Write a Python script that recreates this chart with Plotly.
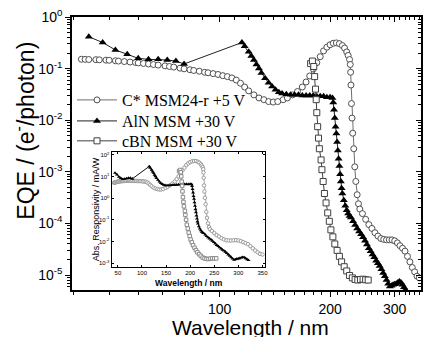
import math
import plotly.graph_objects as go

# ---------------- data ----------------
# C* MSM24-r +5 V  (wavelength nm, EQE e-/photon)
lam_c = [42, 43, 44, 46, 47, 49, 50, 52, 53, 55,
         57, 59, 60, 62, 64, 66, 68, 71, 73, 75,
         78, 80, 83, 85, 88, 91, 93, 96, 99, 102,
         105, 108, 111, 114, 117, 120, 124, 128, 132, 136,
         140, 144, 149, 153, 158, 163, 168, 172, 176, 180,
         184, 188, 192, 196, 200, 204, 208, 212, 216, 219,
         222, 224, 226, 227, 227.5, 228, 228.7, 229.5, 230.5, 232,
         233.5, 235, 237, 239, 241, 245, 250, 255, 260, 265,
         270, 275, 280, 285, 290, 295, 300, 305, 310, 315,
         320, 325, 330, 335, 340, 345, 350]
eqe_c = [0.152, 0.151, 0.150, 0.149, 0.148, 0.146, 0.145, 0.142, 0.140, 0.137,
         0.134, 0.131, 0.129, 0.126, 0.123, 0.120, 0.117, 0.113, 0.110, 0.107,
         0.102, 0.099, 0.095, 0.092, 0.089, 0.085, 0.083, 0.080, 0.077, 0.073,
         0.070, 0.066, 0.060, 0.052, 0.044, 0.037, 0.031, 0.027, 0.025, 0.023,
         0.0225, 0.023, 0.025, 0.027, 0.031, 0.036, 0.044, 0.055, 0.072, 0.098,
         0.13, 0.17, 0.22, 0.26, 0.29, 0.31, 0.315, 0.305, 0.28, 0.25,
         0.21, 0.18, 0.15, 0.12, 0.085, 0.048, 0.021, 0.011, 0.0056, 0.0028,
         0.00125, 6.5e-4, 3.6e-4, 2.4e-4, 1.9e-4, 1.55e-4, 1.2e-4, 9.5e-5, 8.0e-5, 6.6e-5,
         5.7e-5, 5.1e-5, 4.9e-5, 4.8e-5, 4.8e-5, 4.8e-5, 4.6e-5, 4.2e-5, 3.7e-5, 3.3e-5,
         2.9e-5, 2.3e-5, 1.8e-5, 1.4e-5, 1.15e-5, 9.5e-6, 8.8e-6]

# AlN MSM +30 V
lam_a = [44, 48, 52, 56, 60, 64, 68, 72, 76, 80,
         115, 117, 120, 122, 124, 126, 128, 130, 133, 136,
         139, 142, 145, 148, 152, 156, 160, 164, 168, 172,
         176, 180, 184, 188, 192, 196, 200, 203, 204, 205,
         206, 207, 208, 209, 210, 211, 212, 213, 214, 215,
         216, 218, 220, 222, 224, 226, 228, 231, 234, 237,
         240, 243, 246, 249, 252, 255, 258, 261, 264, 267,
         270, 273, 276, 279, 282, 285, 288, 291, 294, 297,
         300, 303, 306, 309, 312, 315, 318, 321]
eqe_a = [0.415, 0.32, 0.23, 0.19, 0.158, 0.151, 0.151, 0.147, 0.14, 0.123,
         0.32, 0.27, 0.213, 0.175, 0.147, 0.12, 0.10, 0.082, 0.065, 0.053,
         0.045, 0.039, 0.035, 0.033, 0.032, 0.031, 0.031, 0.031, 0.030, 0.030,
         0.030, 0.030, 0.029, 0.029, 0.029, 0.028, 0.028, 0.027, 0.022, 0.016,
         0.011, 0.0075, 0.0055, 0.0038, 0.0026, 0.0018, 0.0013, 9.0e-4, 6.5e-4, 4.8e-4,
         3.8e-4, 2.8e-4, 2.2e-4, 1.8e-4, 1.55e-4, 1.4e-4, 1.3e-4, 1.1e-4, 9.3e-5, 8.0e-5,
         7.0e-5, 6.2e-5, 5.4e-5, 4.6e-5, 3.9e-5, 3.3e-5, 2.9e-5, 2.5e-5, 2.2e-5, 1.9e-5,
         1.7e-5, 1.5e-5, 1.3e-5, 1.1e-5, 9.5e-6, 8.0e-6, 6.8e-6, 6.0e-6, 6.2e-6, 6.5e-6,
         6.6e-6, 6.8e-6, 7.2e-6, 7.5e-6, 7.2e-6, 6.5e-6, 5.8e-6, 5.2e-6]

# cBN MSM +30 V
lam_b = [177, 179, 180.5, 181.5, 182.5, 183.3, 184, 185, 186, 187,
         189, 190, 191.5, 193, 195, 197, 199, 201, 203.5, 206,
         209, 212, 215, 218.5, 222, 226, 230, 234, 238, 242,
         246, 250, 254]
eqe_b = [0.125, 0.14, 0.11, 0.07, 0.04, 0.025, 0.014, 0.0075, 0.0045, 0.0028,
         0.0017, 0.0011, 6.5e-4, 3.8e-4, 2.5e-4, 1.6e-4, 1.1e-4, 7.5e-5, 5.5e-5, 4.0e-5,
         3.0e-5, 2.3e-5, 1.8e-5, 1.45e-5, 1.2e-5, 9.8e-6, 8.8e-6, 8.2e-6, 8.0e-6, 8.2e-6,
         8.3e-6, 8.1e-6, 8.0e-6]

names = ["C* MSM24-r +5 V", "AlN MSM +30 V", "cBN MSM +30 V"]

x_major = [100, 200, 300]
x_major_text = ["100", "200", "300"]
y_major = [1e-5, 1e-4, 1e-3, 1e-2, 1e-1, 1]
y_major_text = ["10<sup>-5</sup>", "10<sup>-4</sup>", "10<sup>-3</sup>",
                "10<sup>-2</sup>", "10<sup>-1</sup>", "10<sup>0</sup>"]
inset_x_ticks = [50, 100, 150, 200, 250, 300, 350]
inset_y_ticks = [1e-3, 1e-2, 1e-1, 1, 10, 100]
inset_y_text = ["10<sup>-3</sup>", "10<sup>-2</sup>", "10<sup>-1</sup>",
                "10<sup>0</sup>", "10<sup>1</sup>", "10<sup>2</sup>"]


def responsivity(lam, eqe):
    # mA/W from EQE: R = EQE * lambda[nm] / 1240 (A/W) -> * 1000
    return [e * l / 1.24 for l, e in zip(lam, eqe)]


SANS = "Liberation Sans, Arial, sans-serif"
SERIF = "Liberation Serif, Times New Roman, serif"

fig = go.Figure()

fig.add_trace(go.Scatter(
    x=lam_c, y=eqe_c, name=names[0], mode="lines+markers", legend="legend",
    line=dict(color="#6e6e6e", width=1),
    marker=dict(symbol="circle", size=6, color="white",
                line=dict(color="#505050", width=1))))
fig.add_trace(go.Scatter(
    x=lam_a, y=eqe_a, name=names[1], mode="lines+markers", legend="legend2",
    line=dict(color="#222222", width=1),
    marker=dict(symbol="triangle-up", size=7, color="black",
                line=dict(width=0))))
fig.add_trace(go.Scatter(
    x=lam_b, y=eqe_b, name=names[2], mode="lines+markers", legend="legend3",
    line=dict(color="#404040", width=1),
    marker=dict(symbol="square", size=6, color="white",
                line=dict(color="#404040", width=1))))

# inset (responsivity)
fig.add_trace(go.Scatter(
    x=lam_c, y=responsivity(lam_c, eqe_c), xaxis="x2", yaxis="y2",
    mode="lines+markers", showlegend=False,
    line=dict(color="#a0a0a0", width=1),
    marker=dict(symbol="circle", size=3.5, color="white",
                line=dict(color="#9a9a9a", width=1))))
fig.add_trace(go.Scatter(
    x=lam_a, y=responsivity(lam_a, eqe_a), xaxis="x2", yaxis="y2",
    mode="lines+markers", showlegend=False,
    line=dict(color="#111111", width=1),
    marker=dict(symbol="triangle-up", size=3.5, color="black")))
fig.add_trace(go.Scatter(
    x=lam_b, y=responsivity(lam_b, eqe_b), xaxis="x2", yaxis="y2",
    mode="lines+markers", showlegend=False,
    line=dict(color="#8a8a8a", width=1),
    marker=dict(symbol="square", size=3.5, color="white",
                line=dict(color="#8a8a8a", width=1))))

# helper traces for inside ticks on top / right frame
fig.add_trace(go.Scatter(x=[], y=[], xaxis="x3", yaxis="y", showlegend=False))
fig.add_trace(go.Scatter(x=[], y=[], xaxis="x", yaxis="y3", showlegend=False))

x_minor = [v for v in range(40, 360, 10) if v not in x_major]
y_minor = [m * 10.0 ** e for e in range(-6, 0) for m in range(2, 10)
           if m * 10.0 ** e > 5.2e-6]

xr = [math.log10(39.6), math.log10(353.8)]
yr = [-5.29, 0.0]

tickfont = dict(family=SANS, size=14, color="black")


def leg(ypos):
    return dict(x=0.0, y=ypos, xanchor="left", yanchor="middle",
                bgcolor="rgba(0,0,0,0)", itemwidth=40, borderwidth=0,
                font=dict(family=SERIF, size=16, color="black"))


fig.update_layout(
    width=425, height=337,
    margin=dict(l=72, r=1, t=17, b=47),
    paper_bgcolor="white", plot_bgcolor="white",
    showlegend=True,
    legend=leg(0.696), legend2=leg(0.619), legend3=leg(0.546),
    xaxis=dict(type="log", range=xr, tickmode="array", tickvals=x_major,
               ticktext=x_major_text, ticks="outside", ticklen=5, tickwidth=1.2,
               tickcolor="black",
               minor=dict(tickmode="array", tickvals=x_minor, ticks="outside",
                          ticklen=3, tickwidth=1, tickcolor="black"),
               showline=True, linecolor="black", linewidth=1.5, mirror=True,
               showgrid=False, zeroline=False, tickfont=tickfont),
    yaxis=dict(type="log", range=yr, tickmode="array", tickvals=y_major,
               ticktext=y_major_text, ticks="outside", ticklen=5, tickwidth=1.2,
               tickcolor="black",
               minor=dict(tickmode="array", tickvals=y_minor, ticks="outside",
                          ticklen=3, tickwidth=1, tickcolor="black"),
               showline=True, linecolor="black", linewidth=1.5, mirror=True,
               showgrid=False, zeroline=False, tickfont=tickfont),
    xaxis3=dict(type="log", range=xr, overlaying="x", side="top", anchor="y",
                tickmode="array", tickvals=x_major, ticks="inside", ticklen=5,
                tickwidth=1.2, tickcolor="black", showticklabels=False,
                minor=dict(tickmode="array", tickvals=x_minor, ticks="inside",
                           ticklen=3, tickwidth=1, tickcolor="black"),
                showline=False, showgrid=False, zeroline=False),
    yaxis3=dict(type="log", range=yr, overlaying="y", side="right", anchor="x",
                tickmode="array", tickvals=y_major, ticks="inside", ticklen=5,
                tickwidth=1.2, tickcolor="black", showticklabels=False,
                minor=dict(tickmode="array", tickvals=y_minor, ticks="inside",
                           ticklen=3, tickwidth=1, tickcolor="black"),
                showline=False, showgrid=False, zeroline=False),
    xaxis2=dict(domain=[0.1136, 0.554], anchor="y2", range=[37, 356],
                tickmode="array", tickvals=inset_x_ticks, ticks="inside",
                ticklen=2, tickwidth=0.8, tickcolor="black",
                showline=True, linecolor="black", linewidth=1, mirror="allticks",
                showgrid=False, zeroline=False,
                tickfont=dict(family=SANS, size=6, color="black")),
    yaxis2=dict(domain=[0.0842, 0.5055], anchor="x2", type="log",
                range=[-3.185, 2.139], tickmode="array", tickvals=inset_y_ticks,
                ticktext=inset_y_text, ticks="inside", ticklen=2, tickwidth=0.8,
                tickcolor="black", showline=True, linecolor="black", linewidth=1,
                mirror="allticks", showgrid=False, zeroline=False,
                tickfont=dict(family=SANS, size=6, color="black")),
    annotations=[
        dict(text="EQE / (e<sup>-</sup>/photon)", xref="paper", yref="paper",
             x=-0.136, y=0.582, xanchor="center", yanchor="middle",
             textangle=-90, showarrow=False,
             font=dict(family=SANS, size=23, color="black")),
        dict(text="Wavelength / nm", xref="paper", yref="paper",
             x=0.511, y=-0.137, xanchor="center", yanchor="middle",
             showarrow=False, font=dict(family=SANS, size=21, color="black")),
        dict(text="Abs. Responsivity / mA/W", xref="paper", yref="paper",
             x=0.071, y=0.295, xanchor="center", yanchor="middle",
             textangle=-90, showarrow=False,
             font=dict(family=SANS, size=9, color="black")),
        dict(text="<b>Wavelength / nm</b>", xref="paper", yref="paper",
             x=0.334, y=0.0256, xanchor="center", yanchor="middle",
             showarrow=False, font=dict(family=SANS, size=8.5, color="black")),
    ],
)

fig.write_html("out.html")
